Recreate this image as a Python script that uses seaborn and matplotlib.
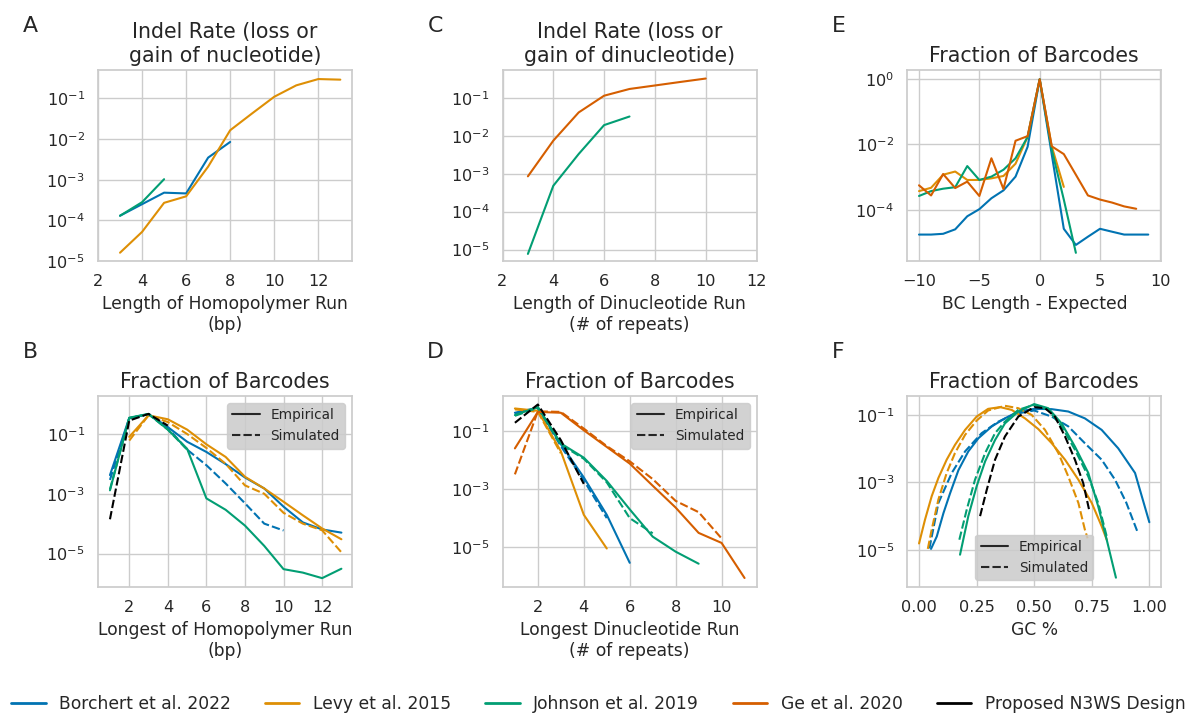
import matplotlib
matplotlib.use("Agg")
import matplotlib.pyplot as plt
import numpy as np
import pandas as pd
import seaborn as sns
from matplotlib.lines import Line2D

# ---------------- data ----------------
datasets = ["Borchert et al. 2022", "Levy et al. 2015", "Johnson et al. 2019",
            "Ge et al. 2020", "Proposed N3WS Design"]
kinds = ["Empirical", "Simulated"]

# A: indel rate vs homopolymer length
A_x_borchert = [3, 4, 5, 6, 7, 8]
A_y_borchert = [1.3e-4, 2.5e-4, 4.8e-4, 4.6e-4, 3.5e-3, 8.5e-3]
A_x_levy = [3, 4, 5, 6, 7, 8, 9, 10, 11, 12, 13]
A_y_levy = [1.6e-5, 5.2e-5, 2.7e-4, 3.9e-4, 2.1e-3, 1.65e-2, 4.3e-2, 1.1e-1, 2.1e-1, 3.0e-1, 2.9e-1]
A_x_johnson = [3, 4, 5]
A_y_johnson = [1.3e-4, 2.8e-4, 1.03e-3]

# C: indel rate vs dinucleotide run length
C_x_johnson = [3, 4, 5, 6, 7]
C_y_johnson = [7.7e-6, 4.8e-4, 3.3e-3, 1.9e-2, 3.2e-2]
C_x_ge = [3, 4, 5, 6, 7, 8, 9, 10]
C_y_ge = [8.5e-4, 7.4e-3, 4.1e-2, 1.13e-1, 1.7e-1, 2.1e-1, 2.6e-1, 3.2e-1]

# E: BC length - expected
E_x_borchert = list(range(-10, 10))
E_y_borchert = [1.8e-5, 1.8e-5, 1.9e-5, 2.6e-5, 6.5e-5, 1.07e-4, 2.3e-4, 4.0e-4, 1.05e-3, 8.5e-3,
                0.97, 5e-3, 2.7e-5, 8.7e-6, 1.55e-5, 2.7e-5, 2.2e-5, 1.8e-5, 1.8e-5, 1.8e-5]
E_x_levy = list(range(-10, 3))
E_y_levy = [3.8e-4, 4.8e-4, 1.2e-3, 1.5e-3, 8.3e-4, 8.3e-4, 9.3e-4, 1.1e-3, 2.6e-3, 1.7e-2,
            0.97, 8.8e-3, 5.1e-4]
E_x_johnson = list(range(-10, 4))
E_y_johnson = [2.7e-4, 3.8e-4, 4.5e-4, 5.0e-4, 2.2e-3, 8.3e-4, 1.05e-3, 1.7e-3, 3.8e-3, 1.7e-2,
               0.97, 7e-3, 2.1e-4, 5e-6]
E_x_ge = list(range(-10, 9))
E_y_ge = [5.7e-4, 2.8e-4, 1.26e-3, 4.7e-4, 7.4e-4, 2.7e-4, 3.8e-3, 4.4e-4, 1.3e-2, 1.8e-2,
          0.97, 8.8e-3, 5.1e-3, 1.2e-3, 2.8e-4, 2.1e-4, 1.7e-4, 1.3e-4, 1.1e-4]

# B: longest homopolymer run
B_x_borchert_emp = list(range(1, 14))
B_y_borchert_emp = [4.2e-3, 0.34, 0.46, 0.17, 0.055, 0.025, 9.8e-3, 3.5e-3, 1.5e-3, 3.7e-4, 1.1e-4, 6.4e-5, 5e-5]
B_x_borchert_sim = list(range(1, 11))
B_y_borchert_sim = [2.9e-3, 0.33, 0.46, 0.16, 0.03, 9e-3, 2.2e-3, 4.8e-4, 1e-4, 5.9e-5]
B_x_levy_emp = list(range(2, 14))
B_y_levy_emp = [0.08, 0.42, 0.31, 0.14, 0.045, 0.017, 3.7e-3, 1.5e-3, 5.4e-4, 1.9e-4, 6.9e-5, 3e-5]
B_x_levy_sim = list(range(2, 14))
B_y_levy_sim = [0.06, 0.42, 0.25, 0.1, 0.034, 0.01, 1.9e-3, 1e-3, 2.3e-4, 1e-4, 6e-5, 1.1e-5]
B_x_johnson_emp = list(range(1, 14))
B_y_johnson_emp = [1.3e-3, 0.35, 0.47, 0.14, 0.032, 7e-4, 2.9e-4, 8.6e-5, 1.8e-5, 3e-6, 2.3e-6, 1.5e-6, 3.1e-6]
B_x_johnson_sim = [1, 2, 3, 4, 5]
B_y_johnson_sim = [1.4e-3, 0.34, 0.46, 0.14, 0.03]
B_x_proposed_sim = [1, 2, 3, 4]
B_y_proposed_sim = [1.4e-4, 0.28, 0.47, 0.19]

# D: longest dinucleotide run
D_x_borchert_emp = [1, 2, 3, 4, 5, 6]
D_y_borchert_emp = [0.42, 0.63, 0.035, 2.5e-3, 1.3e-4, 2.9e-6]
D_x_borchert_sim = [1, 2, 3, 4, 5]
D_y_borchert_sim = [0.4, 0.6, 0.03, 2e-3, 1e-4]
D_x_levy_emp = [1, 2, 3, 4, 5]
D_y_levy_emp = [0.59, 0.49, 0.02, 1.3e-4, 9e-6]
D_x_levy_sim = [1, 2, 3]
D_y_levy_sim = [0.55, 0.45, 0.017]
D_x_johnson_emp = [1, 2, 3, 4, 5, 6, 7, 8, 9]
D_y_johnson_emp = [0.35, 0.66, 0.037, 0.012, 1.9e-3, 2e-4, 2.3e-5, 7e-6, 2.7e-6]
D_x_johnson_sim = [1, 2, 3, 4, 5, 6, 7]
D_y_johnson_sim = [0.33, 0.62, 0.034, 0.011, 1.7e-3, 1e-4, 3e-5]
D_x_ge_emp = list(range(1, 12))
D_y_ge_emp = [0.025, 0.45, 0.42, 0.105, 0.028, 7.5e-3, 1.3e-3, 2.3e-4, 3.1e-5, 1.4e-5, 8.7e-7]
D_x_ge_sim = list(range(1, 11))
D_y_ge_sim = [3.2e-3, 0.47, 0.45, 0.12, 0.03, 9e-3, 2.2e-3, 3.9e-4, 1.6e-4, 2e-5]
D_x_proposed_sim = [1, 2, 3, 4]
D_y_proposed_sim = [0.19, 0.81, 0.048, 1.5e-3]

# F: GC content
F_x_borchert_emp = [0.052, 0.077, 0.106, 0.135, 0.171, 0.214, 0.258, 0.316, 0.373, 0.431, 0.5,
                    0.576, 0.648, 0.72, 0.793, 0.865, 0.938, 1.0]
F_y_borchert_emp = [1.07e-5, 2.5e-5, 1.23e-4, 4.8e-4, 2.3e-3, 8.3e-3, 0.0204, 0.0457, 0.079, 0.126,
                    0.151, 0.148, 0.126, 0.079, 0.036, 0.0102, 1.9e-3, 6.6e-5]
F_x_borchert_sim = [0.045, 0.084, 0.142, 0.2, 0.272, 0.344, 0.417, 0.5, 0.576, 0.648, 0.72, 0.793,
                    0.851, 0.9, 0.948]
F_y_borchert_sim = [1.1e-5, 2.45e-4, 1.9e-3, 8.3e-3, 0.0288, 0.063, 0.107, 0.135, 0.089, 0.0457,
                    0.0145, 4.7e-3, 1.2e-3, 2.5e-4, 3.5e-5]
F_x_levy_emp = [0.0, 0.026, 0.055, 0.084, 0.12, 0.156, 0.2, 0.25, 0.30, 0.352, 0.402, 0.46, 0.518,
                0.576, 0.634, 0.692, 0.75, 0.793, 0.815]
F_y_levy_emp = [1.55e-5, 7.9e-5, 3.9e-4, 1.35e-3, 4.7e-3, 0.0129, 0.036, 0.089, 0.151, 0.17, 0.141,
                0.079, 0.038, 0.0145, 4.7e-3, 1.2e-3, 2.45e-4, 5e-5, 2.0e-5]
F_x_levy_sim = [0.038, 0.055, 0.084, 0.12, 0.156, 0.2, 0.25, 0.30, 0.373, 0.431, 0.489, 0.547,
                0.605, 0.648, 0.692, 0.72, 0.732]
F_y_levy_sim = [1.07e-5, 4e-5, 3.1e-4, 1.9e-3, 7.4e-3, 0.0257, 0.0676, 0.135, 0.186, 0.158, 0.1,
                0.036, 7.4e-3, 1.5e-3, 2.45e-4, 4e-5, 2.2e-5]
F_x_johnson_emp = [0.178, 0.214, 0.25, 0.287, 0.33, 0.373, 0.431, 0.5, 0.561, 0.619, 0.677, 0.735,
                   0.778, 0.815, 0.836, 0.855]
F_y_johnson_emp = [7.2e-6, 1e-4, 7.6e-4, 4.2e-3, 0.018, 0.056, 0.126, 0.209, 0.158, 0.056, 0.0115,
                   1.9e-3, 1.95e-4, 2e-5, 5.1e-6, 1.5e-6]
F_x_johnson_sim = [0.175, 0.207, 0.243, 0.287, 0.33, 0.373, 0.431, 0.5, 0.561, 0.619, 0.677, 0.735,
                   0.778, 0.815]
F_y_johnson_sim = [2e-5, 1.55e-4, 1.2e-3, 7.4e-3, 0.0288, 0.063, 0.141, 0.2, 0.141, 0.0457, 9.3e-3,
                   1.5e-3, 2.45e-4, 2.5e-5]
F_x_proposed_sim = [0.265, 0.294, 0.33, 0.373, 0.431, 0.5, 0.547, 0.59, 0.634, 0.677, 0.713, 0.738]
F_y_proposed_sim = [1e-4, 6e-4, 4.7e-3, 0.0229, 0.089, 0.17, 0.158, 0.089, 0.0229, 4.7e-3, 9.5e-4, 1.6e-4]

# ---------------- style ----------------
sns.set_theme(style="whitegrid", palette="colorblind")
plt.rcParams["font.family"] = ["DejaVu Sans"]
plt.rcParams["xtick.labelsize"] = 11.6
plt.rcParams["ytick.labelsize"] = 11.6

cb = sns.color_palette("colorblind")
palette = {datasets[0]: cb[0], datasets[1]: cb[1], datasets[2]: cb[2],
           datasets[3]: cb[3], datasets[4]: "black"}
dash_map = {"Empirical": "", "Simulated": (4, 1.5)}

TITLE_FS = 14.8
LABEL_FS = 12.3
W, H = 1197, 715
fig = plt.figure(figsize=(W / 100, H / 100), dpi=100)


def frame(series):
    rows = []
    for ds, kind, xs, ys in series:
        for x, y in zip(xs, ys):
            rows.append({"x": x, "y": y, "dataset": ds, "kind": kind})
    return pd.DataFrame(rows)


def make_ax(left_px, top_px, w_px=254, h_px=191):
    return fig.add_axes([left_px / W, 1 - (top_px + h_px) / H, w_px / W, h_px / H])


def draw(ax, series):
    df = frame(series)
    present = [d for d in datasets if d in set(df["dataset"])]
    sns.lineplot(data=df, x="x", y="y", hue="dataset", style="kind",
                 hue_order=present, style_order=kinds, palette=palette,
                 dashes=dash_map, estimator=None, sort=True, legend=False,
                 linewidth=1.5, ax=ax)
    ax.set_yscale("log")
    ax.set_ylabel("")


def kind_legend(ax, loc):
    hs = [Line2D([], [], color="0.15", lw=1.5, ls="-"),
          Line2D([], [], color="0.15", lw=1.5, dashes=(4, 1.5))]
    leg = ax.legend(hs, kinds, loc=loc, fontsize=9.8, frameon=True,
                    facecolor="#cbcbcb", edgecolor="#cbcbcb", framealpha=0.85)
    return leg


cols = [98, 502.5, 907.3]
row1_top, row2_top = 70, 396

# A
axA = make_ax(cols[0], row1_top)
draw(axA, [(datasets[0], "Empirical", A_x_borchert, A_y_borchert),
           (datasets[1], "Empirical", A_x_levy, A_y_levy),
           (datasets[2], "Empirical", A_x_johnson, A_y_johnson)])
axA.set_xlim(2, 13.53)
axA.set_ylim(10 ** -5.0, 10 ** -0.30)
axA.set_xticks([2, 4, 6, 8, 10, 12])
axA.set_yticks([1e-5, 1e-4, 1e-3, 1e-2, 1e-1])
axA.set_title("Indel Rate (loss or\ngain of nucleotide)", fontsize=TITLE_FS)
axA.set_xlabel("Length of Homopolymer Run\n(bp)", fontsize=LABEL_FS)

# C
axC = make_ax(cols[1], row1_top)
draw(axC, [(datasets[2], "Empirical", C_x_johnson, C_y_johnson),
           (datasets[3], "Empirical", C_x_ge, C_y_ge)])
axC.set_xlim(2, 12)
axC.set_ylim(10 ** -5.30, 10 ** -0.27)
axC.set_xticks([2, 4, 6, 8, 10, 12])
axC.set_yticks([1e-5, 1e-4, 1e-3, 1e-2, 1e-1])
axC.set_title("Indel Rate (loss or\ngain of dinucleotide)", fontsize=TITLE_FS)
axC.set_xlabel("Length of Dinucleotide Run\n(# of repeats)", fontsize=LABEL_FS)

# E
axE = make_ax(cols[2], row1_top)
draw(axE, [(datasets[0], "Empirical", E_x_borchert, E_y_borchert),
           (datasets[1], "Empirical", E_x_levy, E_y_levy),
           (datasets[2], "Empirical", E_x_johnson, E_y_johnson),
           (datasets[3], "Empirical", E_x_ge, E_y_ge)])
axE.set_xlim(-10.97, 10.08)
axE.set_ylim(10 ** -5.55, 10 ** 0.27)
axE.set_xticks([-10, -5, 0, 5, 10])
axE.set_yticks([1e-4, 1e-2, 1e0])
axE.set_title("Fraction of Barcodes", fontsize=TITLE_FS)
axE.set_xlabel("BC Length - Expected", fontsize=LABEL_FS)

# B
axB = make_ax(cols[0], row2_top)
draw(axB, [(datasets[0], "Empirical", B_x_borchert_emp, B_y_borchert_emp),
           (datasets[0], "Simulated", B_x_borchert_sim, B_y_borchert_sim),
           (datasets[1], "Empirical", B_x_levy_emp, B_y_levy_emp),
           (datasets[1], "Simulated", B_x_levy_sim, B_y_levy_sim),
           (datasets[2], "Empirical", B_x_johnson_emp, B_y_johnson_emp),
           (datasets[2], "Simulated", B_x_johnson_sim, B_y_johnson_sim),
           (datasets[4], "Simulated", B_x_proposed_sim, B_y_proposed_sim)])
axB.set_xlim(0.38, 13.55)
axB.set_ylim(10 ** -6.12, 10 ** 0.27)
axB.set_xticks([2, 4, 6, 8, 10, 12])
axB.set_yticks([1e-5, 1e-3, 1e-1])
axB.set_title("Fraction of Barcodes", fontsize=TITLE_FS)
axB.set_xlabel("Longest of Homopolymer Run\n(bp)", fontsize=LABEL_FS)
kind_legend(axB, "upper right")

# D
axD = make_ax(cols[1], row2_top)
draw(axD, [(datasets[0], "Empirical", D_x_borchert_emp, D_y_borchert_emp),
           (datasets[0], "Simulated", D_x_borchert_sim, D_y_borchert_sim),
           (datasets[1], "Empirical", D_x_levy_emp, D_y_levy_emp),
           (datasets[1], "Simulated", D_x_levy_sim, D_y_levy_sim),
           (datasets[2], "Empirical", D_x_johnson_emp, D_y_johnson_emp),
           (datasets[2], "Simulated", D_x_johnson_sim, D_y_johnson_sim),
           (datasets[3], "Empirical", D_x_ge_emp, D_y_ge_emp),
           (datasets[3], "Simulated", D_x_ge_sim, D_y_ge_sim),
           (datasets[4], "Simulated", D_x_proposed_sim, D_y_proposed_sim)])
axD.set_xlim(0.46, 11.52)
axD.set_ylim(10 ** -6.37, 10 ** 0.2)
axD.set_xticks([2, 4, 6, 8, 10])
axD.set_yticks([1e-5, 1e-3, 1e-1])
axD.set_title("Fraction of Barcodes", fontsize=TITLE_FS)
axD.set_xlabel("Longest Dinucleotide Run\n(# of repeats)", fontsize=LABEL_FS)
kind_legend(axD, "upper right")

# F
axF = make_ax(cols[2], row2_top)
draw(axF, [(datasets[0], "Empirical", F_x_borchert_emp, F_y_borchert_emp),
           (datasets[0], "Simulated", F_x_borchert_sim, F_y_borchert_sim),
           (datasets[1], "Empirical", F_x_levy_emp, F_y_levy_emp),
           (datasets[1], "Simulated", F_x_levy_sim, F_y_levy_sim),
           (datasets[2], "Empirical", F_x_johnson_emp, F_y_johnson_emp),
           (datasets[2], "Simulated", F_x_johnson_sim, F_y_johnson_sim),
           (datasets[4], "Simulated", F_x_proposed_sim, F_y_proposed_sim)])
axF.set_xlim(-0.051, 1.052)
axF.set_ylim(10 ** -6.10, 10 ** -0.44)
axF.set_xticks([0.0, 0.25, 0.5, 0.75, 1.0])
axF.set_xticklabels(["0.00", "0.25", "0.50", "0.75", "1.00"])
axF.set_yticks([1e-5, 1e-3, 1e-1])
axF.set_title("Fraction of Barcodes", fontsize=TITLE_FS)
axF.set_xlabel("GC %", fontsize=LABEL_FS)
kind_legend(axF, "lower center")

# panel letters
for lab, xpx, ypx in [("A", 23, 32.3), ("C", 428, 32.3), ("E", 832, 32.3),
                      ("B", 23, 358.3), ("D", 427, 358.3), ("F", 832, 357.5)]:
    fig.text(xpx / W, 1 - ypx / H, lab, fontsize=15.8, color="0.15",
             ha="left", va="baseline")

# figure legend
handles = [Line2D([], [], color=palette[d], lw=2.0) for d in datasets]
fig.legend(handles, datasets, loc="center", bbox_to_anchor=(0.5, 1 - 704 / H),
           ncol=5, frameon=False, fontsize=12.3)

fig.savefig("out.png", dpi=100)
